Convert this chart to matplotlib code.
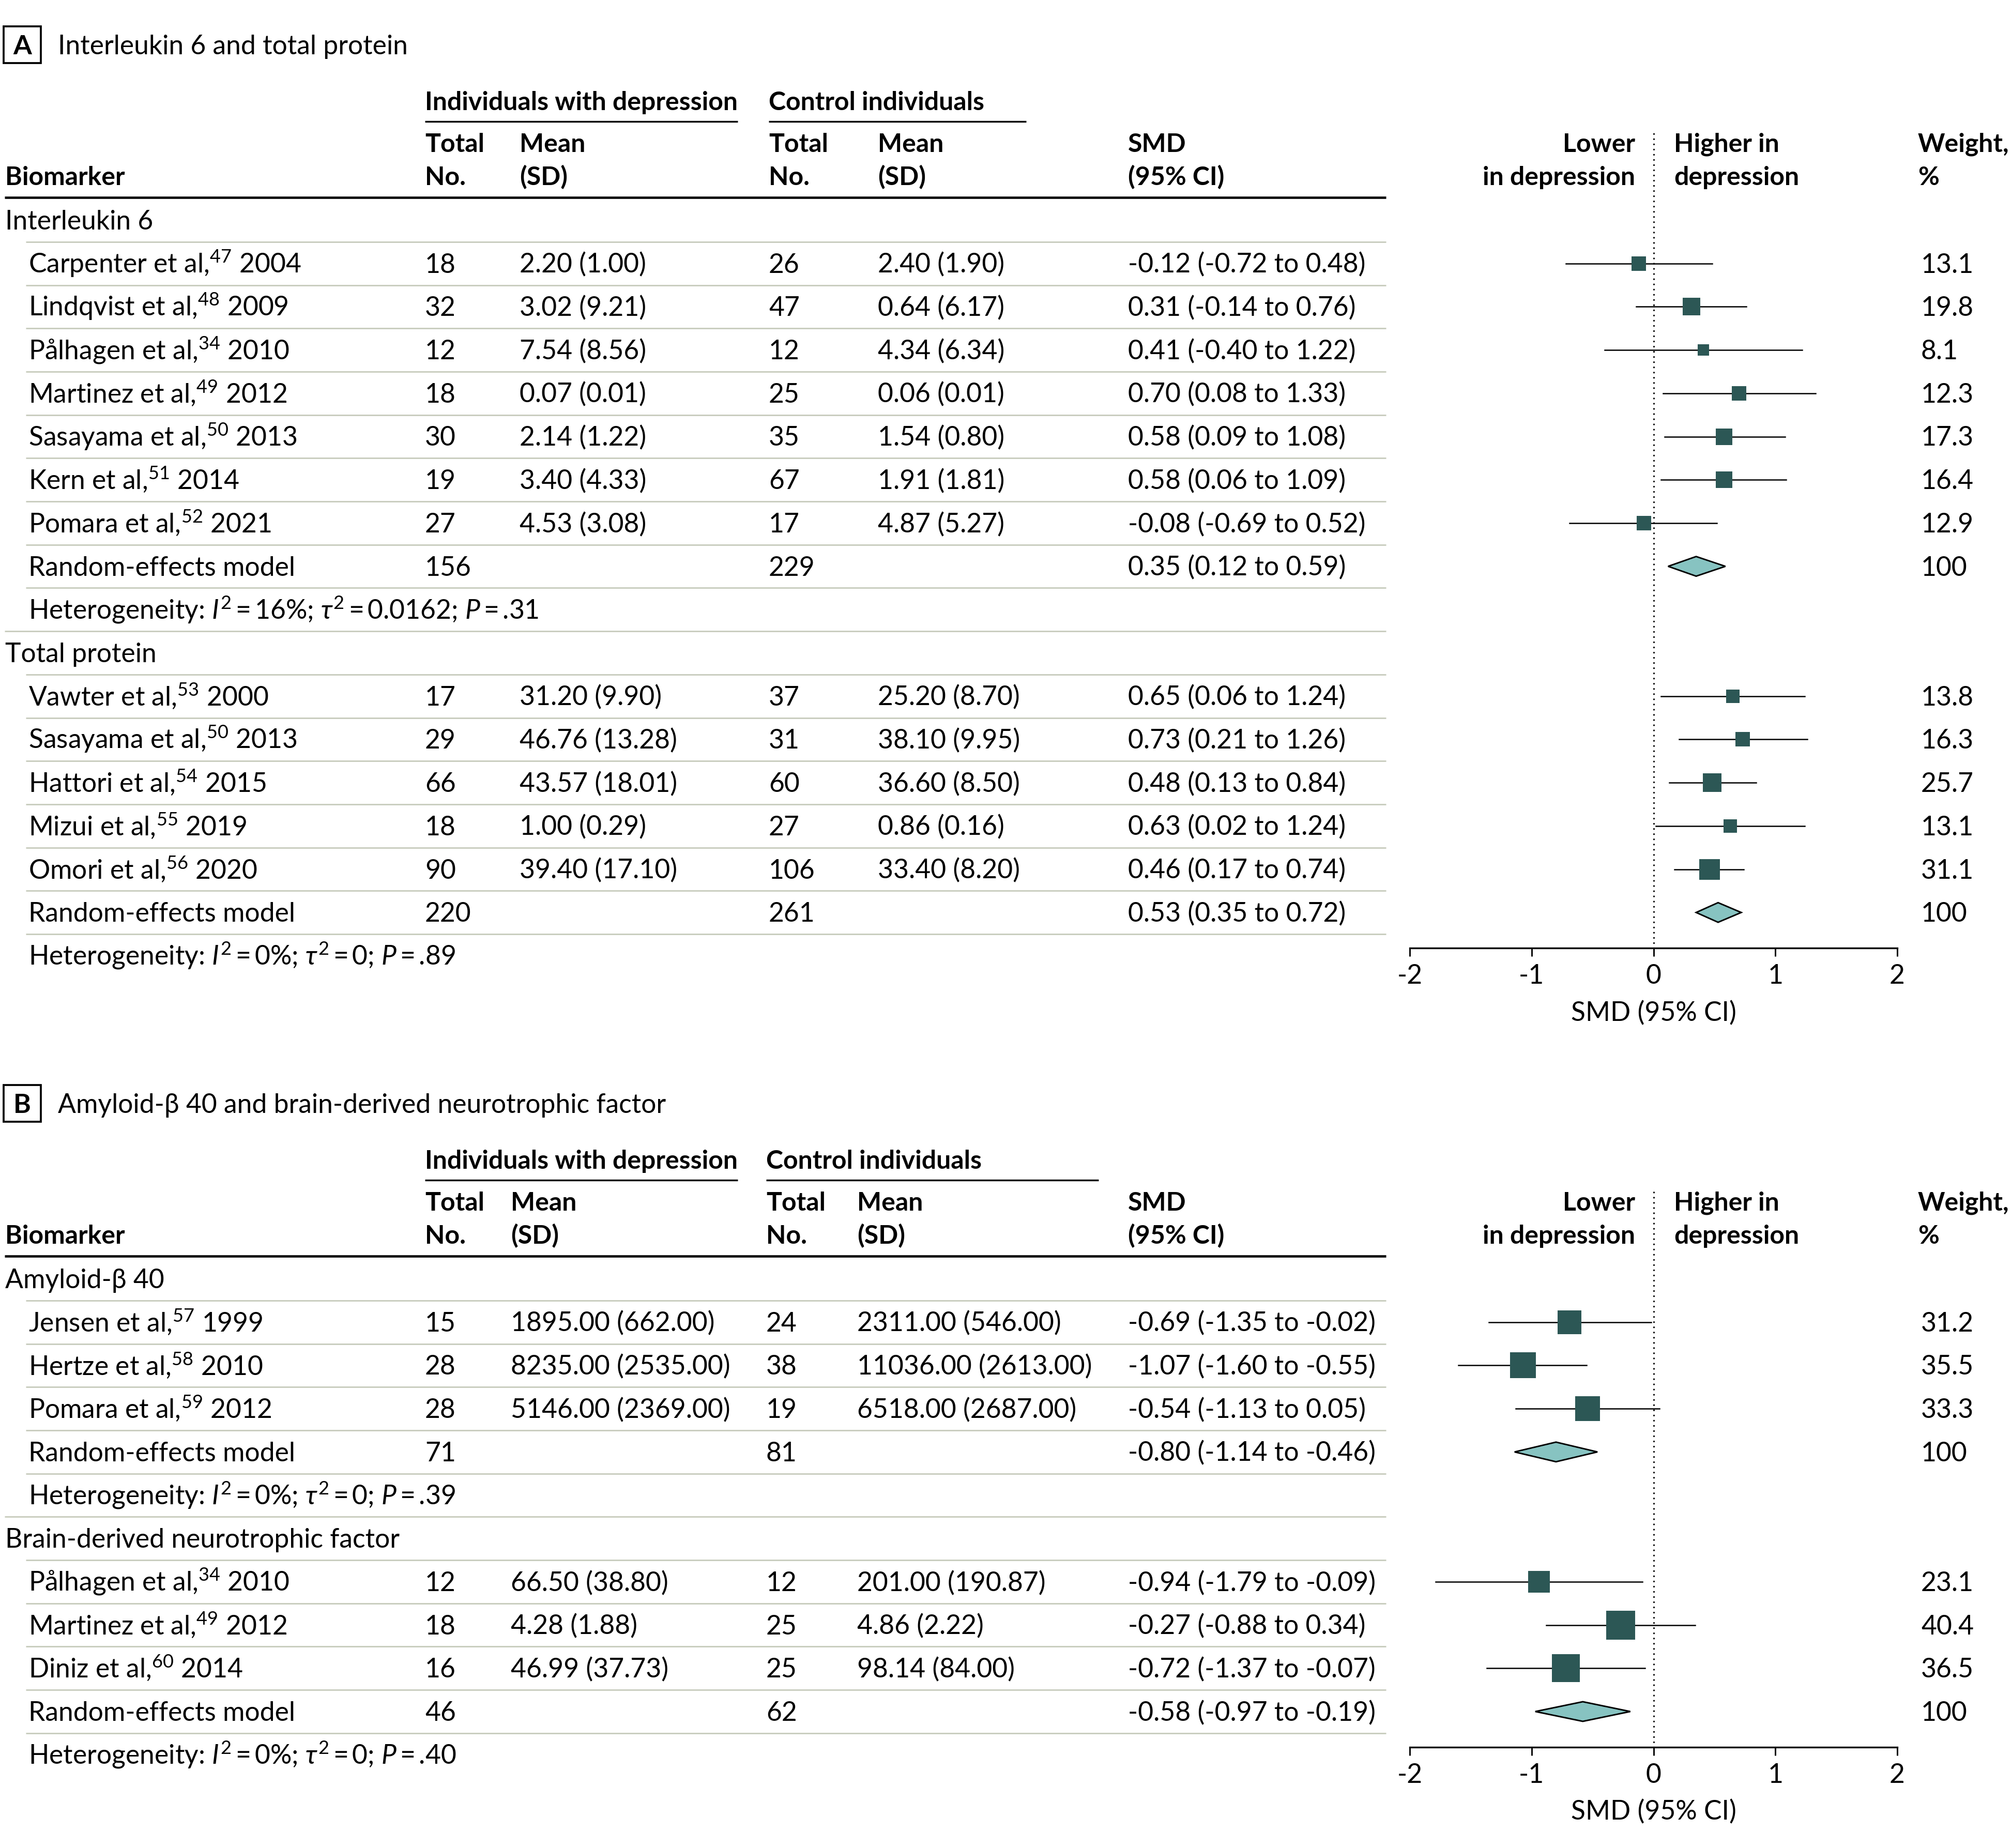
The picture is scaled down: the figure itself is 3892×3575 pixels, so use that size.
import numpy as np
import matplotlib.pyplot as plt
from matplotlib.patches import Polygon, Rectangle

plt.rcParams['font.family'] = ['Lato', 'DejaVu Sans']
plt.rcParams['mathtext.fontset'] = 'custom'
plt.rcParams['mathtext.rm'] = 'Lato'
plt.rcParams['mathtext.it'] = 'Lato:italic'
plt.rcParams['mathtext.bf'] = 'Lato:bold'
plt.rcParams['mathtext.fallback'] = 'stixsans'
plt.rcParams['axes.unicode_minus'] = False

# ---------------- data ----------------
# A / Interleukin 6
il6_study = [r"Carpenter et al,$^{47}$ 2004", r"Lindqvist et al,$^{48}$ 2009",
             r"Pålhagen et al,$^{34}$ 2010", r"Martinez et al,$^{49}$ 2012",
             r"Sasayama et al,$^{50}$ 2013", r"Kern et al,$^{51}$ 2014",
             r"Pomara et al,$^{52}$ 2021"]
il6_dep_n = [18, 32, 12, 18, 30, 19, 27]
il6_dep_mean = [2.20, 3.02, 7.54, 0.07, 2.14, 3.40, 4.53]
il6_dep_sd = [1.00, 9.21, 8.56, 0.01, 1.22, 4.33, 3.08]
il6_ctl_n = [26, 47, 12, 25, 35, 67, 17]
il6_ctl_mean = [2.40, 0.64, 4.34, 0.06, 1.54, 1.91, 4.87]
il6_ctl_sd = [1.90, 6.17, 6.34, 0.01, 0.80, 1.81, 5.27]
il6_smd = [-0.12, 0.31, 0.41, 0.70, 0.58, 0.58, -0.08]
il6_lo = [-0.72, -0.14, -0.40, 0.08, 0.09, 0.06, -0.69]
il6_hi = [0.48, 0.76, 1.22, 1.33, 1.08, 1.09, 0.52]
il6_weight = [13.1, 19.8, 8.1, 12.3, 17.3, 16.4, 12.9]
il6_pooled = [156, 229, 0.35, 0.12, 0.59]
il6_het = ["16%", "0.0162", ".31"]

# A / Total protein
tp_study = [r"Vawter et al,$^{53}$ 2000", r"Sasayama et al,$^{50}$ 2013",
            r"Hattori et al,$^{54}$ 2015", r"Mizui et al,$^{55}$ 2019",
            r"Omori et al,$^{56}$ 2020"]
tp_dep_n = [17, 29, 66, 18, 90]
tp_dep_mean = [31.20, 46.76, 43.57, 1.00, 39.40]
tp_dep_sd = [9.90, 13.28, 18.01, 0.29, 17.10]
tp_ctl_n = [37, 31, 60, 27, 106]
tp_ctl_mean = [25.20, 38.10, 36.60, 0.86, 33.40]
tp_ctl_sd = [8.70, 9.95, 8.50, 0.16, 8.20]
tp_smd = [0.65, 0.73, 0.48, 0.63, 0.46]
tp_lo = [0.06, 0.21, 0.13, 0.02, 0.17]
tp_hi = [1.24, 1.26, 0.84, 1.24, 0.74]
tp_weight = [13.8, 16.3, 25.7, 13.1, 31.1]
tp_pooled = [220, 261, 0.53, 0.35, 0.72]
tp_het = ["0%", "0", ".89"]

# B / Amyloid-beta 40
ab_study = [r"Jensen et al,$^{57}$ 1999", r"Hertze et al,$^{58}$ 2010",
            r"Pomara et al,$^{59}$ 2012"]
ab_dep_n = [15, 28, 28]
ab_dep_mean = [1895.00, 8235.00, 5146.00]
ab_dep_sd = [662.00, 2535.00, 2369.00]
ab_ctl_n = [24, 38, 19]
ab_ctl_mean = [2311.00, 11036.00, 6518.00]
ab_ctl_sd = [546.00, 2613.00, 2687.00]
ab_smd = [-0.69, -1.07, -0.54]
ab_lo = [-1.35, -1.60, -1.13]
ab_hi = [-0.02, -0.55, 0.05]
ab_weight = [31.2, 35.5, 33.3]
ab_pooled = [71, 81, -0.80, -1.14, -0.46]
ab_het = ["0%", "0", ".39"]

# B / Brain-derived neurotrophic factor
bd_study = [r"Pålhagen et al,$^{34}$ 2010", r"Martinez et al,$^{49}$ 2012",
            r"Diniz et al,$^{60}$ 2014"]
bd_dep_n = [12, 18, 16]
bd_dep_mean = [66.50, 4.28, 46.99]
bd_dep_sd = [38.80, 1.88, 37.73]
bd_ctl_n = [12, 25, 25]
bd_ctl_mean = [201.00, 4.86, 98.14]
bd_ctl_sd = [190.87, 2.22, 84.00]
bd_smd = [-0.94, -0.27, -0.72]
bd_lo = [-1.79, -0.88, -1.37]
bd_hi = [-0.09, 0.34, -0.07]
bd_weight = [23.1, 40.4, 36.5]
bd_pooled = [46, 62, -0.58, -0.97, -0.19]
bd_het = ["0%", "0", ".40"]

ticks = [-2, -1, 0, 1, 2]


def group(name, study, dn, dm, dsd, cn, cm, csd, smd, lo, hi, w, pooled, het):
    return dict(name=name, study=study, dn=dn, dm=dm, dsd=dsd, cn=cn, cm=cm,
                csd=csd, smd=smd, lo=lo, hi=hi, w=w, pooled=pooled, het=het)


panel_a = [group("Interleukin 6", il6_study, il6_dep_n, il6_dep_mean, il6_dep_sd,
                 il6_ctl_n, il6_ctl_mean, il6_ctl_sd, il6_smd, il6_lo, il6_hi,
                 il6_weight, il6_pooled, il6_het),
           group("Total protein", tp_study, tp_dep_n, tp_dep_mean, tp_dep_sd,
                 tp_ctl_n, tp_ctl_mean, tp_ctl_sd, tp_smd, tp_lo, tp_hi,
                 tp_weight, tp_pooled, tp_het)]
panel_b = [group("Amyloid-β 40", ab_study, ab_dep_n, ab_dep_mean, ab_dep_sd,
                 ab_ctl_n, ab_ctl_mean, ab_ctl_sd, ab_smd, ab_lo, ab_hi,
                 ab_weight, ab_pooled, ab_het),
           group("Brain-derived neurotrophic factor", bd_study, bd_dep_n, bd_dep_mean,
                 bd_dep_sd, bd_ctl_n, bd_ctl_mean, bd_ctl_sd, bd_smd, bd_lo, bd_hi,
                 bd_weight, bd_pooled, bd_het)]

# ---------------- layout / style ----------------
DPI = 300
W, H = 3892, 3575
FS = 12.4
FSB = 12.0   # bold header text
ROW0, DY, BASE = 426, 83.7, 18
X_RIGHT = 2681
XF0, XF1 = 2727, 3670
SEP = '#c9cdbf'
SQ = '#2c5755'
DIA = '#87c3c1'

fig = plt.figure(figsize=(W / DPI, H / DPI), dpi=DPI)
tax = fig.add_axes([0, 0, 1, 1])
tax.set_xlim(0, W)
tax.set_ylim(H, 0)
tax.axis('off')


def put(x, y, s, size=FS, **kw):
    tax.text(x, y + BASE, s, fontsize=size, va='baseline', **kw)


def hline(x0, x1, y, **kw):
    tax.plot([x0, x1], [y, y], solid_capstyle='butt', **kw)


def smd_str(e, l, h):
    return f"{e:.2f} ({l:.2f} to {h:.2f})"


def draw_panel(off, letter, title, groups, cols, sq_k):
    tax.add_patch(Rectangle((7, 51 + off), 72, 71, fill=False, lw=0.9, ec='black'))
    put(43, 87 + off, letter, ha='center', weight='bold')
    put(112, 87 + off, title)

    put(cols['dn'], 195 + off, "Individuals with depression", size=FSB, weight='bold')
    put(cols['cn'], 195 + off, "Control individuals", size=FSB, weight='bold')
    hline(cols['dn'], cols['dep_end'], 235 + off, color='black', lw=0.8)
    hline(cols['cn'], cols['ctl_end'], 235 + off, color='black', lw=0.8)

    hx = [10, cols['dn'], cols['dm'], cols['cn'], cols['cm'], 2182, 3163, 3238, 3710]
    ha = ['left'] * 6 + ['right', 'left', 'left']
    line1 = ["", "Total", "Mean", "Total", "Mean", "SMD", "Lower", "Higher in", "Weight,"]
    line2 = ["Biomarker", "No.", "(SD)", "No.", "(SD)", "(95% CI)", "in depression",
             "depression", "%"]
    for x, a, s1, s2 in zip(hx, ha, line1, line2):
        put(x, 276 + off, s1, size=FSB, ha=a, weight='bold')
        put(x, 340 + off, s2, size=FSB, ha=a, weight='bold')
    hline(9, X_RIGHT, 382 + off, color='black', lw=1.1)

    n_rows = sum(len(g['study']) + 3 for g in groups)
    axis_y = ROW0 + off + (n_rows - 1) * DY - 15
    top = 257 + off
    fax = fig.add_axes([XF0 / W, 1 - axis_y / H, (XF1 - XF0) / W, (axis_y - top) / H])
    fax.set_xlim(ticks[0], ticks[-1])
    fax.set_ylim(axis_y, top)
    fax.patch.set_alpha(0)
    for s in ('top', 'left', 'right'):
        fax.spines[s].set_visible(False)
    fax.spines['bottom'].set_linewidth(0.8)
    fax.set_yticks([])
    fax.set_xticks(ticks)
    fax.set_xticklabels([str(t) for t in ticks])
    fax.tick_params(axis='x', length=3.8, width=0.7, pad=3.6, labelsize=FS)
    fax.axvline(0, color='black', lw=0.8, ls=(0, (0.01, 3.0)), dash_capstyle='round')
    put(XF0 + (0 - ticks[0]) / (ticks[-1] - ticks[0]) * (XF1 - XF0), 1955 - 1832 + axis_y,
        "SMD (95% CI)", ha='center')

    i = 0
    for gi, g in enumerate(groups):
        y = ROW0 + off + i * DY
        put(10, y, g['name'])
        hline(50, X_RIGHT, y + DY / 2, color=SEP, lw=0.7)
        i += 1
        for k in range(len(g['study'])):
            y = ROW0 + off + i * DY
            put(55, y, g['study'][k])
            put(cols['dn'], y, str(g['dn'][k]))
            put(cols['dm'], y, f"{g['dm'][k]:.2f} ({g['dsd'][k]:.2f})")
            put(cols['cn'], y, str(g['cn'][k]))
            put(cols['cm'], y, f"{g['cm'][k]:.2f} ({g['csd'][k]:.2f})")
            put(2182, y, smd_str(g['smd'][k], g['lo'][k], g['hi'][k]))
            put(3716, y, f"{g['w'][k]:.1f}")
            hline(50, X_RIGHT, y + DY / 2, color=SEP, lw=0.7)
            fax.plot([g['lo'][k], g['hi'][k]], [y, y], color='black', lw=0.6,
                     clip_on=False, zorder=3)
            fax.plot(g['smd'][k], y, marker='s', color=SQ, mec=SQ, mew=0,
                     ms=sq_k[gi] * np.sqrt(g['w'][k]) * 72 / DPI, clip_on=False, zorder=4)
            i += 1
        dn, cn, e, lo, hi = g['pooled']
        y = ROW0 + off + i * DY
        put(55, y, "Random-effects model")
        put(cols['dn'], y, str(dn))
        put(cols['cn'], y, str(cn))
        put(2182, y, smd_str(e, lo, hi))
        put(3716, y, "100")
        hline(50, X_RIGHT, y + DY / 2, color=SEP, lw=0.7)
        fax.add_patch(Polygon([(lo, y), (e, y - 19), (hi, y), (e, y + 19)], closed=True,
                              fc=DIA, ec='black', lw=0.7, clip_on=False, zorder=4))
        i += 1
        y = ROW0 + off + i * DY
        i2, t2, p = g['het']
        eq = r"$\,$=$\,$"
        put(55, y, r"Heterogeneity: $\mathit{I}^{2}$" + eq + i2 + r"; $\tau^{2}$" + eq + t2
            + r"; $\mathit{P}$" + eq + p)
        if gi < len(groups) - 1:
            hline(9, X_RIGHT, y + DY / 2, color=SEP, lw=0.7)
        i += 1


cols_a = dict(dn=822, dm=1005, cn=1487, cm=1698, dep_end=1427, ctl_end=1985)
cols_b = dict(dn=822, dm=988, cn=1482, cm=1658, dep_end=1427, ctl_end=2125)
draw_panel(0, "A", "Interleukin 6 and total protein", panel_a, cols_a, [7.8, 7.1])
draw_panel(2048, "B", "Amyloid-β 40 and brain-derived neurotrophic factor", panel_b,
           cols_b, [8.4, 8.8])

fig.savefig("out.png", dpi=DPI)
